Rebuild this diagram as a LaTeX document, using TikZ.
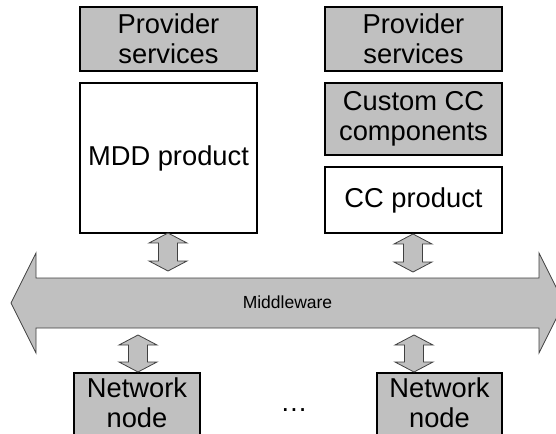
\documentclass[tikz,border=0pt]{standalone}
\usepackage{fontspec}
\setmainfont{Liberation Sans}
\definecolor{boxgray}{HTML}{C0C0C0}
\definecolor{edgegray}{HTML}{404040}
\tikzset{
  bigtext/.style={font=\fontsize{27.3bp}{30bp}\selectfont},
  wbox/.style={draw=black, line width=1.3bp, fill=white, inner sep=0pt, align=center, bigtext},
  gbox/.style={wbox, fill=boxgray},
  arrowstyle/.style={draw=edgegray, line width=0.8bp, fill=boxgray, line join=miter},
  plaintext/.style={inner sep=0pt, align=center}
}
\newcommand\dblarr[3]{%
  \filldraw[arrowstyle] (#1,#2) -- (#1+19,#2+10) -- (#1+9.5,#2+10) -- (#1+9.5,#3-10)
    -- (#1+19,#3-10) -- (#1,#3) -- (#1-19,#3-10) -- (#1-9.5,#3-10) -- (#1-9.5,#2+10)
    -- (#1-19,#2+10) -- cycle;}
\begin{document}
\begin{tikzpicture}[x=1bp, y=-1bp]
\useasboundingbox (0,0) rectangle (556,434);
\clip (0,0) rectangle (556,434);
% middleware arrow
\filldraw[arrowstyle] (11,303) -- (36,253) -- (36,278) -- (539,278) -- (539,253) -- (564,303)
  -- (539,353) -- (539,328) -- (36,328) -- (36,353) -- cycle;
\node[plaintext, font=\fontsize{17.5bp}{20bp}\selectfont] (mw) at (287.5,301.8) {Middleware};
% upper boxes
\node[gbox, minimum width=177bp, minimum height=64bp] (ps1) at (168.5,39) {Provider\\services};
\node[wbox, minimum width=177bp, minimum height=150bp] (mdd) at (168.5,158) {MDD product};
\node[gbox, minimum width=177bp, minimum height=64bp] (ps2) at (413.5,39) {Provider\\services};
\node[gbox, minimum width=177bp, minimum height=72bp] (cust) at (413.5,119) {Custom CC\\components};
\node[wbox, minimum width=177bp, minimum height=66bp] (ccp) at (413.5,200) {CC product};
% network nodes
\node[gbox, minimum width=126bp, minimum height=80bp] (nn1) at (137,413) {};
\node[gbox, minimum width=125bp, minimum height=80bp] (nn2) at (439.5,413) {};
\node[plaintext, bigtext] (nn1t) at (137,403) {Network\\node};
\node[plaintext, bigtext] (nn2t) at (439.5,403) {Network\\node};
\node[plaintext, bigtext] (dots) at (294,410) {…};
% double arrows
\dblarr{168}{233}{271}
\dblarr{413}{234}{272}
\dblarr{138}{335}{372}
\dblarr{414}{335}{372}
\end{tikzpicture}
\end{document}
